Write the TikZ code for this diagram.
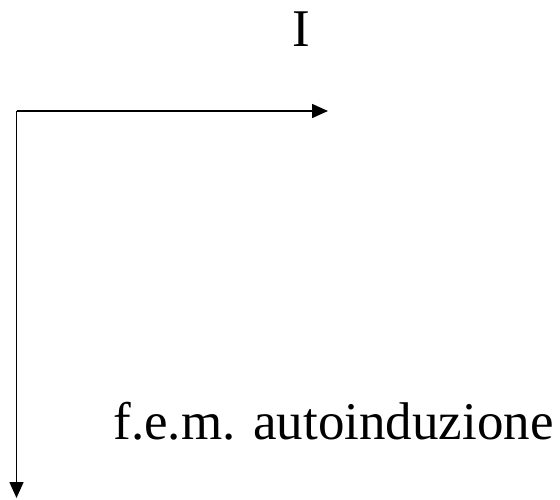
\documentclass[tikz,border=0pt]{standalone}
\usepackage{fontspec}
\setmainfont{Liberation Serif}
\usetikzlibrary{arrows.meta}
\begin{document}
\begin{tikzpicture}[x=1pt,y=1pt,
  axis/.style={line width=1.5pt,-{Triangle[length=16pt,width=14pt]}},
  lab/.style={font=\fontsize{53}{60}\selectfont,anchor=base,inner sep=0pt}]
\useasboundingbox (0,0) rectangle (560,499);
\coordinate (corner) at (16.5,388);
\coordinate (hend) at (328,388);
\coordinate (vend) at (16.5,1);
\draw[axis] (corner) -- (hend);
\draw[axis] (corner) -- (vend);
\node[lab] (I) at (301,452) {I};
\node[lab] (fem) at (333.5,60) {f.e.m. autoinduzione};
\end{tikzpicture}
\end{document}
